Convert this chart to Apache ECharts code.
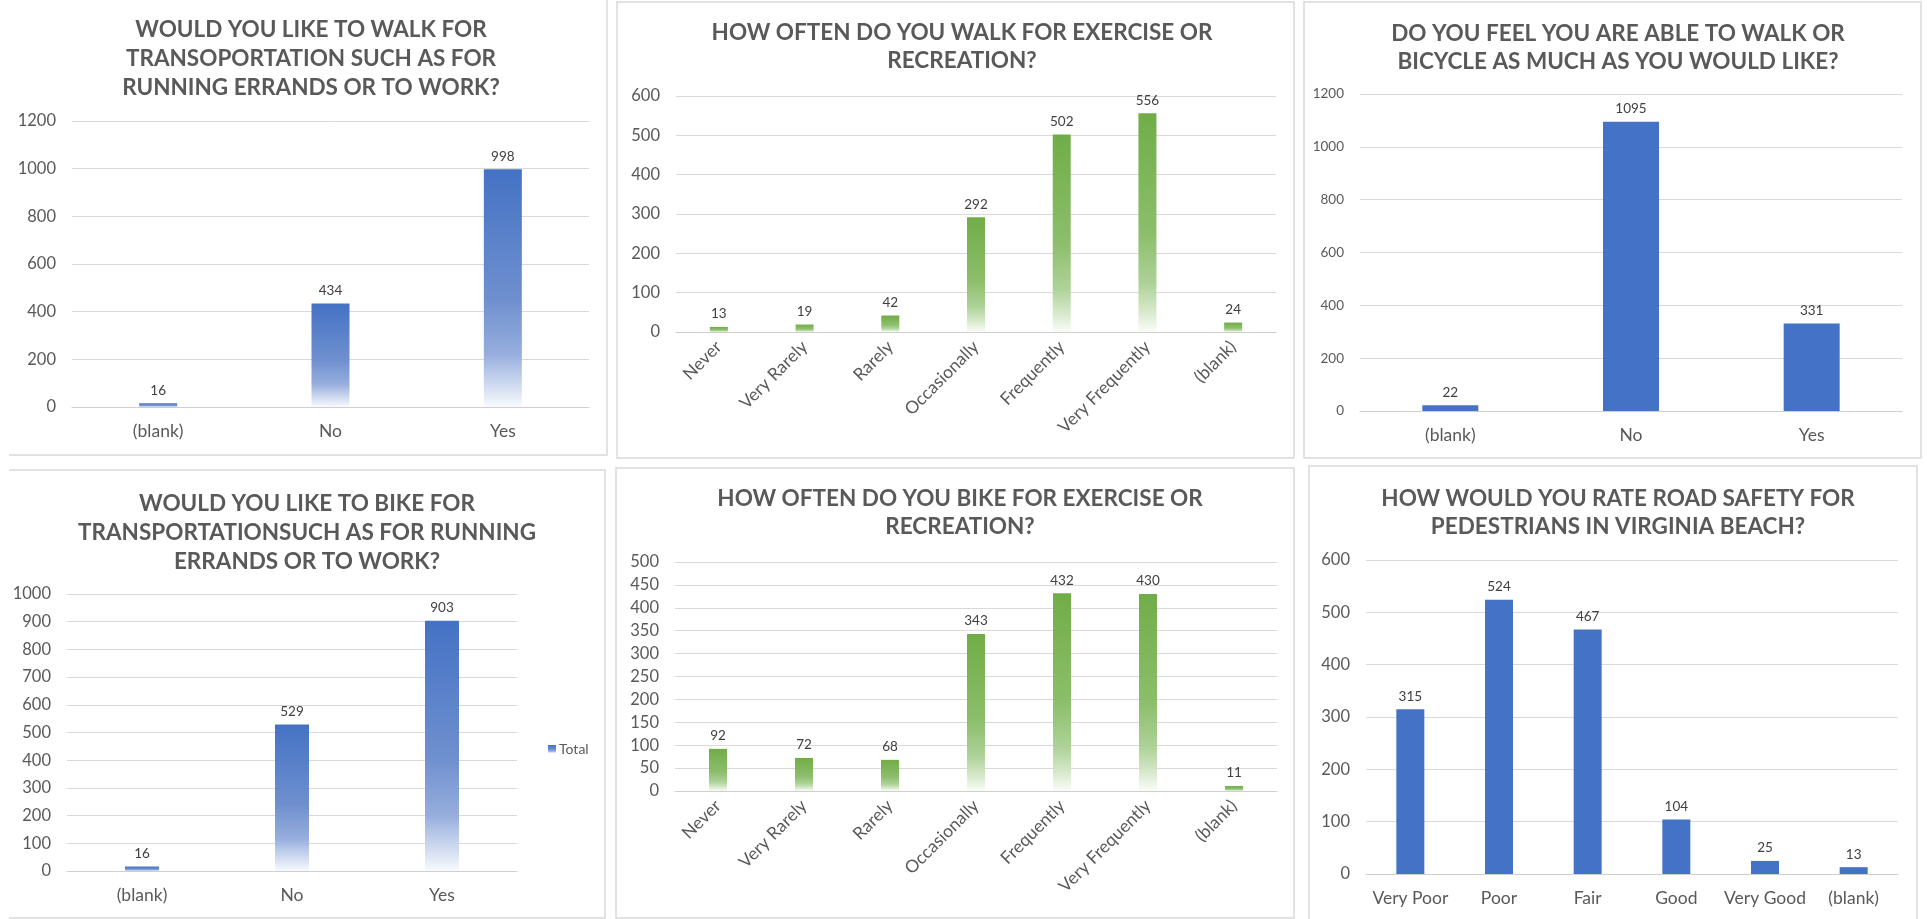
<!DOCTYPE html>
<html>
<head>
<meta charset="utf-8">
<title>Walking and Biking Survey</title>
<script src="https://cdn.jsdelivr.net/npm/echarts@6/dist/echarts.min.js"></script>
<style>
  html, body { margin: 0; padding: 0; background: #ffffff; }
  #chart { width: 1927px; height: 919px; }
</style>
</head>
<body>
<div id="chart"></div>
<script>
// ---- Survey data ----
const walkTransportCats = ['(blank)', 'No', 'Yes'];
const walkTransportVals = [16, 434, 998];

const frequencyCats = ['Never', 'Very Rarely', 'Rarely', 'Occasionally', 'Frequently', 'Very Frequently', '(blank)'];
const walkExerciseVals = [13, 19, 42, 292, 502, 556, 24];

const ableCats = ['(blank)', 'No', 'Yes'];
const ableVals = [22, 1095, 331];

const bikeTransportCats = ['(blank)', 'No', 'Yes'];
const bikeTransportVals = [16, 529, 903];

const bikeExerciseVals = [92, 72, 68, 343, 432, 430, 11];

const safetyCats = ['Very Poor', 'Poor', 'Fair', 'Good', 'Very Good', '(blank)'];
const safetyVals = [315, 524, 467, 104, 25, 13];

const titles = [
  'WOULD YOU LIKE TO WALK FOR\nTRANSOPORTATION SUCH AS FOR\nRUNNING ERRANDS OR TO WORK?',
  'HOW OFTEN DO YOU WALK FOR EXERCISE OR\nRECREATION?',
  'DO YOU FEEL YOU ARE ABLE TO WALK OR\nBICYCLE AS MUCH AS YOU WOULD LIKE?',
  'WOULD YOU LIKE TO BIKE FOR\nTRANSPORTATIONSUCH AS FOR RUNNING\nERRANDS OR TO WORK?',
  'HOW OFTEN DO YOU BIKE FOR EXERCISE OR\nRECREATION?',
  'HOW WOULD YOU RATE ROAD SAFETY FOR\nPEDESTRIANS IN VIRGINIA BEACH?'
];

// ---- Styling ----
const FONT = 'Lato, "Open Sans", sans-serif';
const BLUE = '#4472C4';
const GRID = '#D9D9D9';
const TEXT = '#595959';

const blueFade = {
  type: 'linear', x: 0, y: 0, x2: 0, y2: 1,
  colorStops: [
    { offset: 0, color: '#4472C4' },
    { offset: 0.55, color: '#6F90CF' },
    { offset: 0.78, color: '#97AEDD' },
    { offset: 0.9, color: '#CCD8EF' },
    { offset: 1, color: '#F8FAFD' }
  ]
};
const greenFade = {
  type: 'linear', x: 0, y: 0, x2: 0, y2: 1,
  colorStops: [
    { offset: 0, color: '#70AD47' },
    { offset: 0.55, color: '#8CBE6B' },
    { offset: 0.78, color: '#AED298' },
    { offset: 0.9, color: '#D5E8C9' },
    { offset: 1, color: '#FAFCF8' }
  ]
};

// panel layouts: plot area, axis scale, title placement
const panels = [
  { grid: { left: 72, top: 121, width: 517, height: 286 }, max: 1200, interval: 200,
    cats: walkTransportCats, vals: walkTransportVals, color: blueFade, barWidth: 38,
    titleX: 306, titleTop: 10, lh: 29, yFont: 16.5, rotate: 0, name: 'Walk transport' },
  { grid: { left: 676, top: 96, width: 600, height: 236 }, max: 600, interval: 100,
    cats: frequencyCats, vals: walkExerciseVals, color: greenFade, barWidth: 18,
    titleX: 957, titleTop: 14, lh: 28, yFont: 16.5, rotate: 45, name: 'Walk exercise' },
  { grid: { left: 1360, top: 94, width: 542, height: 317 }, max: 1200, interval: 200,
    cats: ableCats, vals: ableVals, color: BLUE, barWidth: 56,
    titleX: 1613, titleTop: 15, lh: 28, yFont: 13.5, rotate: 0, name: 'Able' },
  { grid: { left: 67, top: 594, width: 450, height: 277 }, max: 1000, interval: 100,
    cats: bikeTransportCats, vals: bikeTransportVals, color: blueFade, barWidth: 34,
    titleX: 302, titleTop: 484, lh: 29, yFont: 16.5, rotate: 0, name: 'Total' },
  { grid: { left: 675, top: 562, width: 602, height: 229 }, max: 500, interval: 50,
    cats: frequencyCats, vals: bikeExerciseVals, color: greenFade, barWidth: 18,
    titleX: 955, titleTop: 480, lh: 28, yFont: 16.5, rotate: 45, name: 'Bike exercise' },
  { grid: { left: 1366, top: 560, width: 532, height: 314 }, max: 600, interval: 100,
    cats: safetyCats, vals: safetyVals, color: BLUE, barWidth: 28,
    titleX: 1613, titleTop: 480, lh: 28, yFont: 16.5, rotate: 0, name: 'Safety' }
];

const option = {
  backgroundColor: '#ffffff',
  animation: false,
  title: panels.map((p, i) => ({
    text: titles[i],
    left: p.titleX,
    top: p.titleTop,
    textAlign: 'center',
    textStyle: {
      fontFamily: FONT, fontWeight: 'bold', fontSize: 22.5,
      color: TEXT, lineHeight: p.lh, align: 'center'
    }
  })),
  legend: {
    data: ['Total'],
    left: 543, top: 737,
    icon: 'rect', itemWidth: 8, itemHeight: 8, itemGap: 4,
    textStyle: { fontFamily: FONT, fontSize: 14, color: TEXT, padding: [0, 0, 0, -2] }
  },
  grid: panels.map(p => Object.assign({ containLabel: false }, p.grid)),
  xAxis: panels.map((p, i) => ({
    type: 'category', gridIndex: i, data: p.cats,
    axisTick: { show: false },
    axisLine: { lineStyle: { color: '#CFCFCF', width: 1 } },
    axisLabel: {
      fontFamily: FONT, fontSize: 17.5, color: TEXT,
      interval: 0, rotate: p.rotate, margin: p.rotate ? 12 : 15
    }
  })),
  yAxis: panels.map((p, i) => ({
    type: 'value', gridIndex: i, min: 0, max: p.max, interval: p.interval,
    axisLine: { show: false }, axisTick: { show: false },
    splitLine: { lineStyle: { color: GRID, width: 1 } },
    axisLabel: {
      fontFamily: FONT, fontSize: p.yFont, color: TEXT, margin: 16,
      formatter: v => String(v)
    }
  })),
  series: panels.map((p, i) => ({
    type: 'bar', name: p.name, xAxisIndex: i, yAxisIndex: i,
    data: p.vals, barWidth: p.barWidth,
    itemStyle: { color: p.color },
    label: {
      show: true, position: 'top', distance: 6,
      fontFamily: FONT, fontSize: 13.5, color: '#404040'
    }
  })),
  graphic: [
    // chart frames
    { type: 'polyline', shape: { points: [[9, 455], [607, 455], [607, -2]] },
      style: { stroke: GRID, lineWidth: 1.5, fill: null } },
    { type: 'rect', shape: { x: 617, y: 2, width: 677, height: 456 },
      style: { stroke: GRID, lineWidth: 1.5, fill: null } },
    { type: 'rect', shape: { x: 1304, y: 2, width: 617, height: 456 },
      style: { stroke: GRID, lineWidth: 1.5, fill: null } },
    { type: 'polyline', shape: { points: [[9, 470], [605, 470], [605, 918], [9, 918]] },
      style: { stroke: GRID, lineWidth: 1.5, fill: null } },
    { type: 'rect', shape: { x: 616, y: 468, width: 678, height: 450 },
      style: { stroke: GRID, lineWidth: 1.5, fill: null } },
    { type: 'rect', shape: { x: 1309, y: 466, width: 608, height: 460 },
      style: { stroke: GRID, lineWidth: 1.5, fill: null } }
  ]
};

const chart = echarts.init(document.getElementById('chart'), null, { renderer: 'canvas' });
chart.setOption(option);
</script>
</body>
</html>
